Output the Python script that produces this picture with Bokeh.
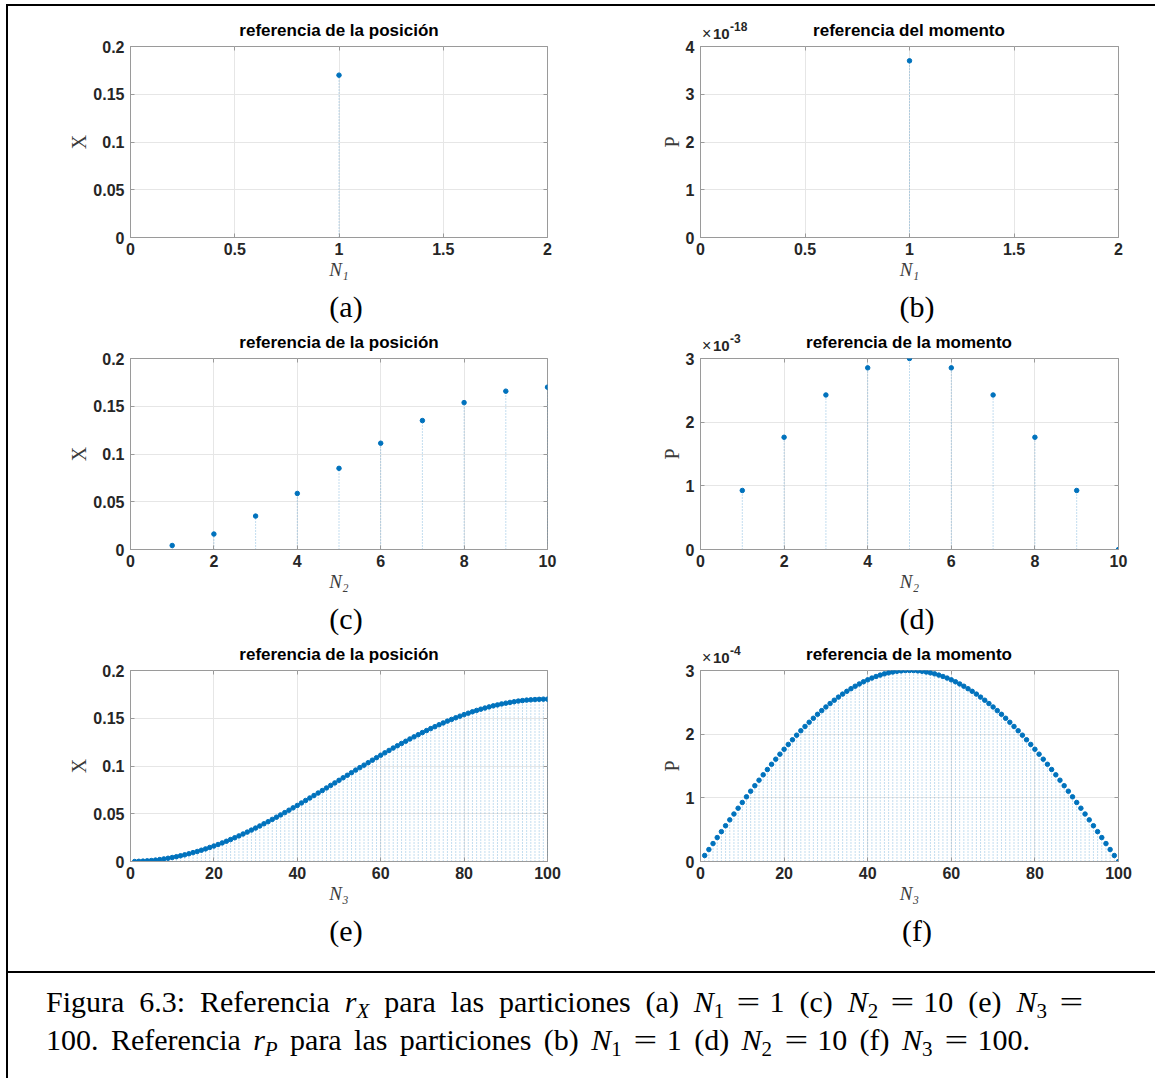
from bokeh.plotting import figure
from bokeh.layouts import column, row
from bokeh.models import Div, Spacer, LinearAxis, PrintfTickFormatter, Range1d
from bokeh.embed import file_html
from bokeh.resources import INLINE

# ---------------- data ----------------
n1 = [1]
x1 = [0.17]
p1 = [3.7]          # in units of 1e-18

n2 = [1, 2, 3, 4, 5, 6, 7, 8, 9, 10]
x2 = [0.0042, 0.0162, 0.0350, 0.0587, 0.0850, 0.1113, 0.1350, 0.1538, 0.1658, 0.1700]
p2 = [0.927, 1.763, 2.427, 2.853, 3.000, 2.853, 2.427, 1.763, 0.927, 0.000]   # 1e-3

n3 = list(range(1, 101))
x3 = [0.0000, 0.0002, 0.0004, 0.0007, 0.0010, 0.0015, 0.0020, 0.0027, 0.0034, 0.0042,
      0.0050, 0.0060, 0.0070, 0.0081, 0.0093, 0.0105, 0.0118, 0.0132, 0.0147, 0.0162,
      0.0178, 0.0195, 0.0212, 0.0230, 0.0249, 0.0268, 0.0288, 0.0308, 0.0329, 0.0350,
      0.0372, 0.0395, 0.0417, 0.0441, 0.0464, 0.0488, 0.0512, 0.0537, 0.0562, 0.0587,
      0.0613, 0.0639, 0.0665, 0.0691, 0.0717, 0.0743, 0.0770, 0.0797, 0.0823, 0.0850,
      0.0877, 0.0903, 0.0930, 0.0957, 0.0983, 0.1009, 0.1035, 0.1061, 0.1087, 0.1113,
      0.1138, 0.1163, 0.1188, 0.1212, 0.1236, 0.1259, 0.1283, 0.1305, 0.1328, 0.1350,
      0.1371, 0.1392, 0.1412, 0.1432, 0.1451, 0.1470, 0.1488, 0.1505, 0.1522, 0.1538,
      0.1553, 0.1568, 0.1582, 0.1595, 0.1607, 0.1619, 0.1630, 0.1640, 0.1650, 0.1658,
      0.1666, 0.1673, 0.1680, 0.1685, 0.1690, 0.1693, 0.1696, 0.1698, 0.1700, 0.1700]
p3 = [0.094, 0.188, 0.282, 0.376, 0.469, 0.562, 0.654, 0.746, 0.837, 0.927,
      1.016, 1.104, 1.191, 1.277, 1.362, 1.445, 1.527, 1.607, 1.686, 1.763,
      1.839, 1.912, 1.984, 2.054, 2.121, 2.187, 2.250, 2.312, 2.370, 2.427,
      2.481, 2.533, 2.582, 2.629, 2.673, 2.714, 2.753, 2.789, 2.823, 2.853,
      2.881, 2.906, 2.928, 2.947, 2.963, 2.976, 2.987, 2.994, 2.999, 3.000,
      2.999, 2.994, 2.987, 2.976, 2.963, 2.947, 2.928, 2.906, 2.881, 2.853,
      2.823, 2.789, 2.753, 2.714, 2.673, 2.629, 2.582, 2.533, 2.481, 2.427,
      2.370, 2.312, 2.250, 2.187, 2.121, 2.054, 1.984, 1.912, 1.839, 1.763,
      1.686, 1.607, 1.527, 1.445, 1.362, 1.277, 1.191, 1.104, 1.016, 0.927,
      0.837, 0.746, 0.654, 0.562, 0.469, 0.376, 0.282, 0.188, 0.094, 0.000]   # 1e-4

ticks_x1 = [0, 0.5, 1, 1.5, 2]
ticks_x2 = [0, 2, 4, 6, 8, 10]
ticks_x3 = [0, 20, 40, 60, 80, 100]
ticks_X = [0, 0.05, 0.1, 0.15, 0.2]
ticks_P4 = [0, 1, 2, 3, 4]
ticks_P3 = [0, 1, 2, 3]

titles = ["referencia de la posición", "referencia del momento",
          "referencia de la posición", "referencia de la momento",
          "referencia de la posición", "referencia de la momento"]
captions = ["(a)", "(b)", "(c)", "(d)", "(e)", "(f)"]
exponents = ["-18", "-3", "-4"]

BLUE = "#0072BD"
AXC = "#9a9a9a"
GRIDC = "#e6e6e6"
SANS = "Liberation Sans"
SERIF = "Liberation Serif"
BOT = 56


def panel(n, v, xr, yr, xt, yt, ylab, xlab, left_col):
    if left_col:
        w, bl, br = 569, 122, 30
    else:
        w, bl, br = 578, 123, 37
    h = 6 + 191 + BOT
    p = figure(width=w, height=h, x_range=Range1d(*xr), y_range=Range1d(*yr),
               output_backend="svg", toolbar_location=None,
               min_border_left=bl, min_border_right=br, min_border_top=6,
               min_border_bottom=BOT, border_fill_color=None,
               background_fill_color="white")
    p.outline_line_color = AXC
    p.outline_line_width = 1
    p.xgrid.grid_line_color = GRIDC
    p.ygrid.grid_line_color = GRIDC

    xa, ya = p.xaxis[0], p.yaxis[0]
    xa.ticker = xt
    ya.ticker = yt
    for ax in (xa, ya):
        ax.formatter = PrintfTickFormatter(format="%g")
        ax.major_label_text_font = SANS
        ax.major_label_text_font_style = "bold"
        ax.major_label_text_font_size = "16px"
        ax.major_label_text_color = "#262626"
        ax.axis_line_color = AXC
        ax.major_tick_line_color = AXC
        ax.major_tick_in = 4
        ax.major_tick_out = 0
        ax.minor_tick_line_color = None
        ax.axis_label_text_font = SERIF
        ax.axis_label_text_color = "#3c3c3c"
    xa.axis_label = xlab
    xa.axis_label_text_font_style = "italic"
    xa.axis_label_text_font_size = "19px"
    xa.major_label_standoff = 5
    xa.axis_label_standoff = 1
    ya.axis_label = ylab
    ya.axis_label_text_font_style = "normal"
    ya.axis_label_text_font_size = "20px"
    ya.major_label_standoff = 6
    ya.axis_label_standoff = 0

    # box ticks on top / right (no labels)
    for loc, tk in (("right", yt), ("above", xt)):
        ax = LinearAxis(ticker=tk, axis_line_color=None, major_tick_line_color=AXC,
                        major_tick_in=4, major_tick_out=0, minor_tick_line_color=None,
                        major_label_text_color=None, major_label_text_font_size="1px",
                        major_label_standoff=0)
        p.add_layout(ax, loc)

    # stems + markers
    p.segment(x0=n, y0=[0] * len(n), x1=n, y1=v, line_color=BLUE,
              line_width=0.8, line_dash="1 2", line_alpha=0.6)
    p.scatter(n, v, size=4.5, color=BLUE, line_color=BLUE)
    return p


fa = panel(n1, x1, (0, 2), (0, 0.2), ticks_x1, ticks_X, "X", "N₁", True)
fb = panel(n1, p1, (0, 2), (0, 4), ticks_x1, ticks_P4, "P", "N₁", False)
fc = panel(n2, x2, (0, 10), (0, 0.2), ticks_x2, ticks_X, "X", "N₂", True)
fd = panel(n2, p2, (0, 10), (0, 3), ticks_x2, ticks_P3, "P", "N₂", False)
fe = panel(n3, x3, (0, 100), (0, 0.2), ticks_x3, ticks_X, "X", "N₃", True)
ff = panel(n3, p3, (0, 100), (0, 3), ticks_x3, ticks_P3, "P", "N₃", False)


# ---------------- HTML text strips (titles, captions, multipliers) ----------------
def txt(x, top, s, size, family, weight="normal", align="center", color="#000"):
    if align == "center":
        pos = f"left:{x - 200}px;width:400px;text-align:center;"
    else:
        pos = f"left:{x}px;"
    return (f"<div style=\"position:absolute;{pos}top:{top:.1f}px;font-family:'{family}';"
            f"font-size:{size}px;line-height:{size}px;font-weight:{weight};color:{color};"
            f"white-space:nowrap;\">{s}</div>")


def strip(h, caps=None, cap_base=24, ttl=None, ttl_base=0, expo=None, mul_base=0):
    parts = []
    if caps:
        for cx, c in zip((338, 909), caps):
            parts.append(txt(cx, cap_base - 25.1, c, 30, SERIF))
    if ttl:
        for cx, t in zip((331, 901), ttl):
            parts.append(txt(cx, ttl_base - 14.4, t, 17, SANS, "bold"))
    if expo:
        parts.append(txt(694, mul_base - 13.5, "×", 16, SANS, "normal", "left", "#262626"))
        parts.append(txt(705, mul_base - 12.7, "10", 15, SANS, "bold", "left", "#262626"))
        parts.append(txt(722, mul_base - 8 - 10.2, expo, 12, SANS, "bold", "left", "#262626"))
    html = (f"<div style='position:relative;width:1147px;height:{h}px;overflow:visible;'>"
            + "".join(parts) + "</div>")
    return Div(text=html, width=1147, height=h, margin=0, styles={"overflow": "visible"})


s1 = strip(34, ttl=titles[0:2], ttl_base=30.5, expo=exponents[0], mul_base=33)
m1 = strip(59, caps=captions[0:2], ttl=titles[2:4], ttl_base=55.3, expo=exponents[1], mul_base=58)
m2 = strip(59, caps=captions[2:4], ttl=titles[4:6], ttl_base=55.3, expo=exponents[2], mul_base=58)
b1 = strip(54, caps=captions[4:6])

SUB = "font-size:0.7em;vertical-align:-0.28em;line-height:0;"
EQ = ("<span style='display:inline-block;transform:scaleX(1.4);"
      "margin:0 0.42em 0 0.52em;'>=</span>")
EQ_END = ("<span style='display:inline-block;transform:scaleX(1.4);"
          "margin:0 0.12em 0 0.52em;'>=</span>")


def N(i):
    return f"<i>N</i><span style='{SUB}'>{i}</span>"


line1 = (f"Figura 6.3: Referencia <i>r</i><span style='{SUB}'><i>X</i></span> para las "
         f"particiones (a) {N(1)}{EQ}1 (c) {N(2)}{EQ}10 (e) {N(3)}{EQ_END}")
line2 = (f"100. Referencia <i>r</i><span style='{SUB}'><i>P</i></span> para las particiones "
         f"(b) {N(1)}{EQ}1 (d) {N(2)}{EQ}10 (f) {N(3)}{EQ}100.")
cap_html = (
    f"<div style=\"box-sizing:border-box;font-family:'{SERIF}',serif;font-size:30px;color:#000;"
    f"padding:10px 0 0 38px;width:1147px;\">"
    f"<div style='width:1037px;line-height:38px;text-align:justify;text-align-last:justify;white-space:nowrap;'>{line1}</div>"
    f"<div style='width:984px;line-height:38px;text-align:justify;text-align-last:justify;white-space:nowrap;'>{line2}</div></div>"
)

divider = Div(text="", width=1147, height=2, margin=0, styles={"background-color": "#000"})
caption = Div(text=cap_html, width=1147, height=105, margin=0)
left_line = Div(text="", width=2, height=1072, margin=0, styles={"background-color": "#000"})
top_line = Div(text="", width=1149, height=2, margin=0, styles={"background-color": "#000"})

content = column(s1, row(fa, fb), m1, row(fc, fd), m2, row(fe, ff), b1, divider, caption)
layout = column(Spacer(width=1155, height=4),
                row(Spacer(width=6, height=1074),
                    column(top_line, row(left_line, content))))

open("out.html", "w").write(file_html(layout, INLINE))
